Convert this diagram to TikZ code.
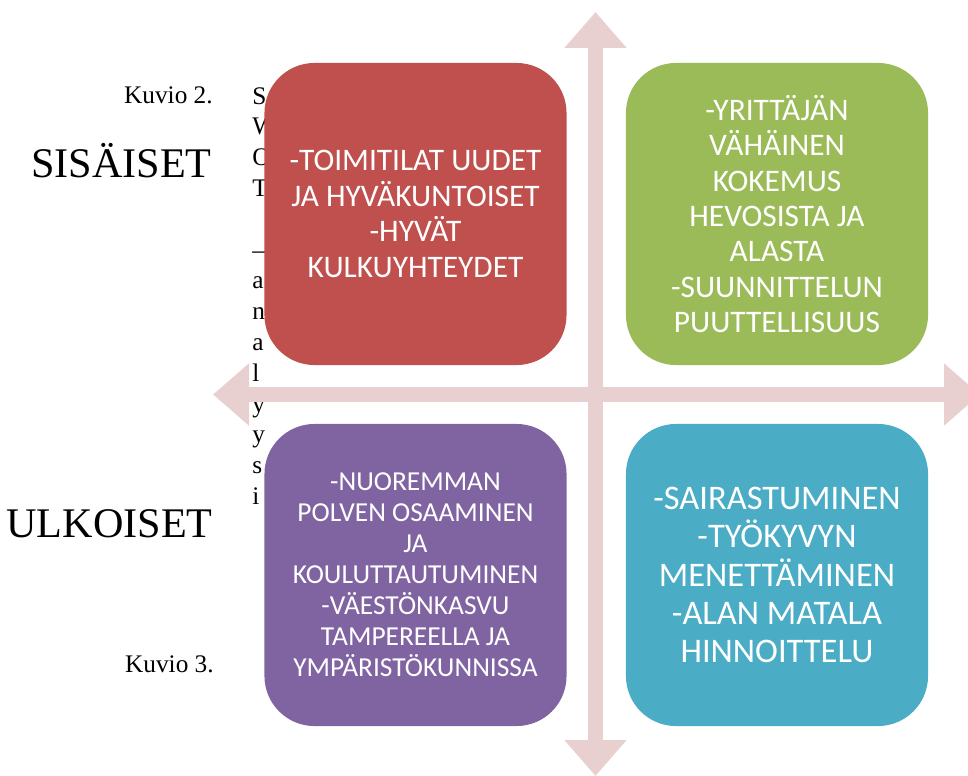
\documentclass[tikz,border=0pt]{standalone}
\usepackage{fontspec}
\setmainfont{Liberation Serif}
\newfontfamily\boxfont{Carlito}
\usepackage{tikz}
\usetikzlibrary{arrows.meta}
\definecolor{swotred}{HTML}{C0504D}
\definecolor{swotgreen}{HTML}{9BBB59}
\definecolor{swotpurple}{HTML}{8064A2}
\definecolor{swotblue}{HTML}{4BACC6}
\definecolor{axispink}{HTML}{E8D0D1}

\begin{document}
\begin{tikzpicture}[x=0.025cm, y=-0.025cm, >={Triangle[length=25.6pt, width=42.7pt]}]
        \useasboundingbox (0,0) rectangle (968,776);
        % captions and row titles on the left
        \begin{scope}[every node/.style={inner sep=0mm, anchor=base east}]
            \node[font=\fontsize{18}{22}\selectfont] at (213,103) (kuvio2) {Kuvio 2.};
            \node[font=\fontsize{30}{36}\selectfont] at (212,177) (sisaiset) {SISÄISET};
            \node[font=\fontsize{30}{36}\selectfont] at (213,537) (ulkoiset) {ULKOISET};
            \node[font=\fontsize{18}{22}\selectfont] at (214,672) (kuvio3) {Kuvio 3.};
        \end{scope}
        \foreach \ch [count=\i] in {S,W,O,T,{},–,a,n,a,l,y,y,s,i}
            \node[inner sep=0mm, anchor=base west, font=\fontsize{18}{22}\selectfont] at (252,{104+30.8*(\i-1)}) (swot\i) {\ch};
        % axes
        \coordinate (top) at (595.5,12);
        \coordinate (bottom) at (595.5,776);
        \coordinate (left) at (213,394.5);
        \coordinate (right) at (980,394.5);
        \draw[axispink, line width=10.7pt, <->] (bottom) -- (top);
        \draw[axispink, line width=10.7pt, <->] (left) -- (right);
        % quadrants
        \begin{scope}[every node/.style={rounded corners=1.25cm,
            minimum width=7.55cm,
            minimum height=7.55cm,
            inner sep=0mm,
            text=white,
            align=center}]
            \node[fill=swotred, font=\boxfont\fontsize{22.3}{25.2}\selectfont] at (415.5,214) (vahvuudet)
                {-TOIMITILAT UUDET\\JA HYVÄKUNTOISET\\-HYVÄT\\KULKUYHTEYDET};
            \node[fill=swotgreen, font=\boxfont\fontsize{22.3}{25.2}\selectfont] at (777,214) (heikkoudet)
                {-YRITTÄJÄN\\VÄHÄINEN\\KOKEMUS\\HEVOSISTA JA\\ALASTA\\-SUUNNITTELUN\\PUUTTELLISUUS};
            \node[fill=swotpurple, font=\boxfont\fontsize{19.5}{22}\selectfont] at (415.5,575) (mahdollisuudet)
                {-NUOREMMAN\\POLVEN OSAAMINEN\\JA\\KOULUTTAUTUMINEN\\-VÄESTÖNKASVU\\TAMPEREELLA JA\\YMPÄRISTÖKUNNISSA};
            \node[fill=swotblue, font=\boxfont\fontsize{24.5}{27.3}\selectfont] at (777,575) (uhat)
                {-SAIRASTUMINEN\\-TYÖKYVYN\\MENETTÄMINEN\\-ALAN MATALA\\HINNOITTELU};
        \end{scope}
    \end{tikzpicture}
\end{document}
